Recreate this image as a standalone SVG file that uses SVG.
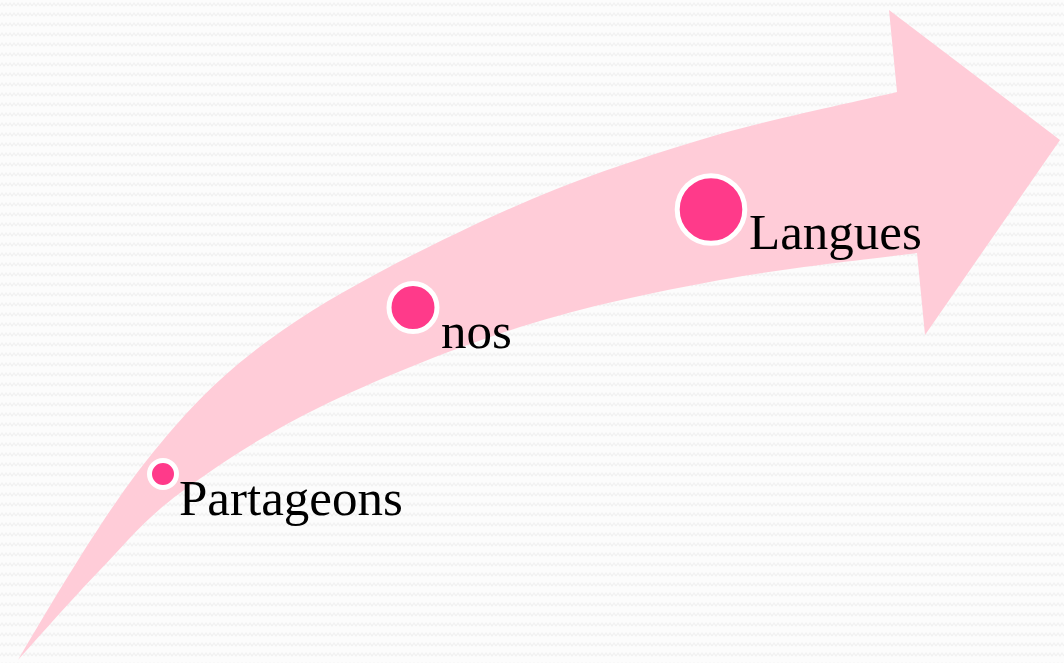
<svg xmlns="http://www.w3.org/2000/svg" width="1064" height="663" viewBox="0 0 1064 663">
<style>
.lbl{font-family:"Liberation Serif","Times New Roman",serif;font-size:51px;fill:#000}
.dot{fill:#FF3A8A;stroke:#FFFFFF;stroke-width:5}
</style>
<defs>
<pattern id="zz" width="8" height="10" patternUnits="userSpaceOnUse">
<rect width="8" height="10" fill="#FCFCFC"/>
<path d="M0,6 L2,3 L4,6 L6,3 L8,6" fill="none" stroke="#F1F1F1" stroke-width="1.2"/>
</pattern>
</defs>
<rect width="1064" height="663" fill="url(#zz)"/>
<g id="connectors">
<path id="arrow" fill="#FFCCD8" d="M18,660 C45,614 102.8,515 147,460 C191.2,405 224.2,371.2 283,330 C341.8,288.8 430.5,244.7 500,213 C569.5,181.3 633.8,160.2 700,140 C766.2,119.8 864.2,100 897,92 L889,10 L1060,140 L925,335 L917,253 C884.2,257.5 786.2,267.7 720,280 C653.8,292.3 586.7,305.8 520,327 C453.3,348.2 376.7,379.3 320,407 C263.3,434.7 216.7,465.8 180,493 C143.3,520.2 127,542.2 100,570 C73,597.8 31.7,645 18,660 Z"/>
</g>
<g id="node-partageons">
<circle class="dot" cx="163" cy="474" r="13.5"/>
<text class="lbl" x="179" y="515">Partageons</text>
</g>
<g id="node-nos">
<circle class="dot" cx="413" cy="307.5" r="24"/>
<text class="lbl" x="441" y="348">nos</text>
</g>
<g id="node-langues">
<circle class="dot" cx="711" cy="209.5" r="33.8"/>
<text class="lbl" x="749" y="249">Langues</text>
</g>
</svg>
